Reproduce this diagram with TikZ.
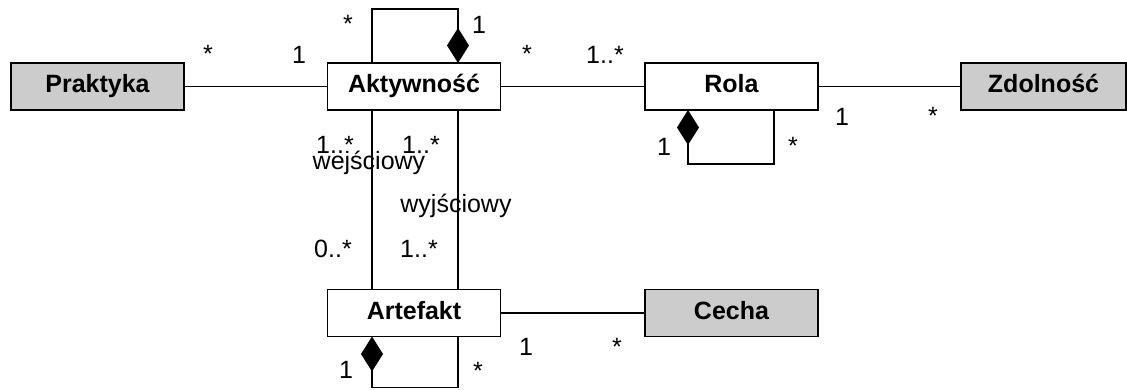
\documentclass[tikz,border=0pt]{standalone}
\usepackage{fontspec}
\setmainfont{Liberation Sans}
\usetikzlibrary{arrows.meta}
\definecolor{boxgray}{RGB}{204,204,204}
\tikzset{
  umlbox/.style={draw=black, line width=1.8pt, rectangle, inner sep=0pt, outer sep=0pt,
    minimum width=173pt, minimum height=47pt, text height=18pt, text depth=6pt,
    font=\fontsize{25}{25}\selectfont\bfseries},
  graybox/.style={umlbox, fill=boxgray},
  whitebox/.style={umlbox, fill=white},
  conn/.style={line width=1.6pt, black},
  comp/.style={conn, {Diamond[length=35pt,width=22pt]}-},
  lab/.style={anchor=base, inner sep=0pt, font=\fontsize{25}{25}\selectfont}
}
\begin{document}
\begin{tikzpicture}[x=1pt,y=-1pt]
\useasboundingbox (0,0) rectangle (1127,389);
% boxes
\node[graybox]  (prak)  at (97.5,86.5)  {Praktyka};
\node[whitebox] (akt)   at (414,86.5)   {Aktywność};
\node[whitebox] (rola)  at (731.5,86.5) {Rola};
\node[graybox, minimum width=165pt] (zdol) at (1043.5,86.5) {Zdolność};
\node[whitebox] (art)   at (414,313)    {Artefakt};
\node[graybox]  (cecha) at (731.5,313)  {Cecha};
% associations
\draw[conn] (prak.east) -- (akt.west);
\draw[conn] (akt.east) -- (rola.west);
\draw[conn] (rola.east) -- (zdol.west);
\draw[conn] (art.east) -- (cecha.west);
\draw[conn] ([xshift=-42pt]akt.south) -- ([xshift=-42pt]art.north);
\draw[conn] ([xshift=44pt]akt.south) -- ([xshift=44pt]art.north);
% compositions (self loops)
\draw[comp] ([xshift=44pt]akt.north) -- ++(0,-54) -| ([xshift=-42pt]akt.north);
\draw[comp] ([xshift=-43.5pt]rola.south) -- ++(0,54) -| ([xshift=42.5pt]rola.south);
\draw[comp] ([xshift=-42pt]art.south) -- ++(0,51) -| ([xshift=44pt]art.south);
% multiplicities and roles
\node[lab] (m1)  at (208,62.5) {*};
\node[lab] (m2)  at (299,63)   {1};
\node[lab] (m3)  at (348,32.5) {*};
\node[lab] (m4)  at (479,33)   {1};
\node[lab] (m5)  at (527,62.5) {*};
\node[lab] (m6)  at (605,63)   {1..*};
\node[lab] (m7)  at (664,155)  {1};
\node[lab] (m8)  at (793,154.5){*};
\node[lab] (m9)  at (842,125)  {1};
\node[lab] (m10) at (933,124.5){*};
\node[lab] (m11) at (335,153)  {1..*};
\node[lab] (m12) at (421,153)  {1..*};
\node[lab] (r1)  at (369,169)  {wejściowy};
\node[lab] (r2)  at (456,212)  {wyjściowy};
\node[lab] (m13) at (333,257)  {0..*};
\node[lab] (m14) at (419,257)  {1..*};
\node[lab] (m15) at (526,355)  {1};
\node[lab] (m16) at (617,355.5){*};
\node[lab] (m17) at (346,378)  {1};
\node[lab] (m18) at (478,379.5){*};
\end{tikzpicture}
\end{document}
